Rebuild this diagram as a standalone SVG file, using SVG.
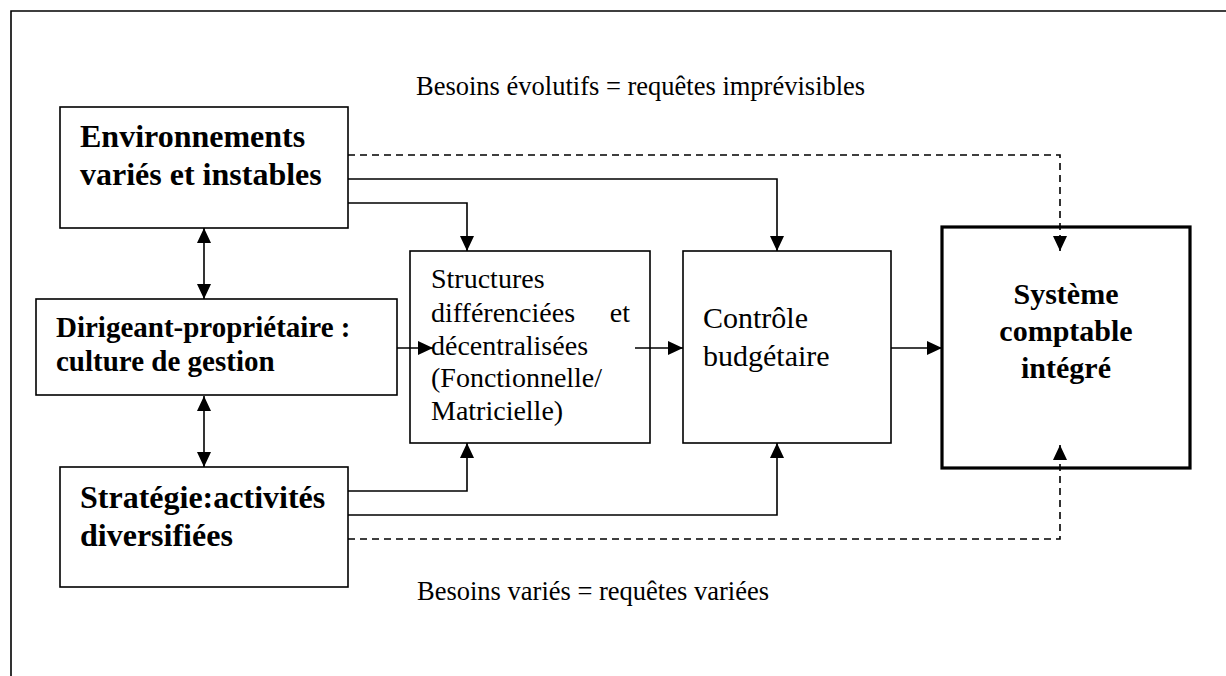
<svg xmlns="http://www.w3.org/2000/svg" width="1226" height="676" viewBox="0 0 1226 676">
<style>
.box{fill:#fff;stroke:#000;stroke-width:1.6}
.thick{fill:#fff;stroke:#000;stroke-width:3.2}
.ln{fill:none;stroke:#000;stroke-width:1.6}
.dash{fill:none;stroke:#000;stroke-width:1.6;stroke-dasharray:7 5}
.b{font-family:"Liberation Serif","Times New Roman",serif;font-weight:bold;fill:#000}
.r{font-family:"Liberation Serif","Times New Roman",serif;fill:#000}
</style>
<defs>
<marker id="ah" markerUnits="userSpaceOnUse" markerWidth="16" markerHeight="14" refX="15" refY="7" orient="auto-start-reverse" viewBox="0 0 16 14">
<path d="M0,0 L15,7 L0,14 z" fill="#000"/>
</marker>
</defs>
<rect width="1226" height="676" fill="#fff"/>
<path class="ln" d="M11,676 V11 H1226"/>

<text class="r" x="416" y="95" font-size="26.5">Besoins évolutifs = requêtes imprévisibles</text>
<text class="r" x="417" y="600" font-size="26.5">Besoins variés = requêtes variées</text>

<g id="connectors">
<line class="ln" x1="204" y1="228" x2="204" y2="299" marker-start="url(#ah)" marker-end="url(#ah)"/>
<line class="ln" x1="204" y1="396" x2="204" y2="467" marker-start="url(#ah)" marker-end="url(#ah)"/>
<line class="ln" x1="397" y1="348" x2="433" y2="348" marker-end="url(#ah)"/>
<line class="ln" x1="635" y1="348" x2="683" y2="348" marker-end="url(#ah)"/>
<line class="ln" x1="891" y1="348" x2="942" y2="348" marker-end="url(#ah)"/>
<path class="ln" d="M348,203 H467 V251" marker-end="url(#ah)"/>
<path class="ln" d="M348,179 H777 V251" marker-end="url(#ah)"/>
<path class="ln" d="M348,491 H467 V443" marker-end="url(#ah)"/>
<path class="ln" d="M348,515 H777 V443" marker-end="url(#ah)"/>
<path class="dash" d="M348,155 H1060 V251" marker-end="url(#ah)"/>
<path class="dash" d="M348,539 H1060 V445" marker-end="url(#ah)"/>
</g>

<g id="env">
<rect class="box" x="60" y="107" width="288" height="121" fill-opacity="0"/>
<text class="b" x="80" y="147" font-size="32">Environnements</text>
<text class="b" x="80" y="185" font-size="32">variés et instables</text>
</g>

<g id="dirigeant">
<rect class="box" x="36" y="299" width="361" height="96" fill-opacity="0"/>
<text class="b" x="56" y="337" font-size="29">Dirigeant-propriétaire :</text>
<text class="b" x="56" y="371" font-size="29">culture de gestion</text>
</g>

<g id="strategie">
<rect class="box" x="60" y="467" width="288" height="120" fill-opacity="0"/>
<text class="b" x="80" y="508" font-size="32">Stratégie:activités</text>
<text class="b" x="80" y="546" font-size="32">diversifiées</text>
</g>

<g id="structures">
<rect class="box" x="410" y="251" width="240" height="192" fill-opacity="0"/>
<text class="r" x="431" y="288" font-size="28">Structures</text>
<text class="r" x="431" y="322" font-size="28">différenciées</text>
<text class="r" x="630" y="322" font-size="28" text-anchor="end">et</text>
<text class="r" x="431" y="355" font-size="28">décentralisées</text>
<text class="r" x="431" y="387" font-size="28">(Fonctionnelle/</text>
<text class="r" x="431" y="420" font-size="28">Matricielle)</text>
</g>

<g id="controle">
<rect class="box" x="683" y="251" width="208" height="192" fill-opacity="0"/>
<text class="r" x="703" y="328" font-size="30">Contrôle</text>
<text class="r" x="703" y="366" font-size="30">budgétaire</text>
</g>

<g id="systeme">
<rect class="thick" x="942" y="227" width="248" height="241" fill-opacity="0"/>
<text class="b" x="1066" y="304" font-size="30" text-anchor="middle">Système</text>
<text class="b" x="1066" y="341" font-size="30" text-anchor="middle">comptable</text>
<text class="b" x="1066" y="378" font-size="30" text-anchor="middle">intégré</text>
</g>
</svg>
